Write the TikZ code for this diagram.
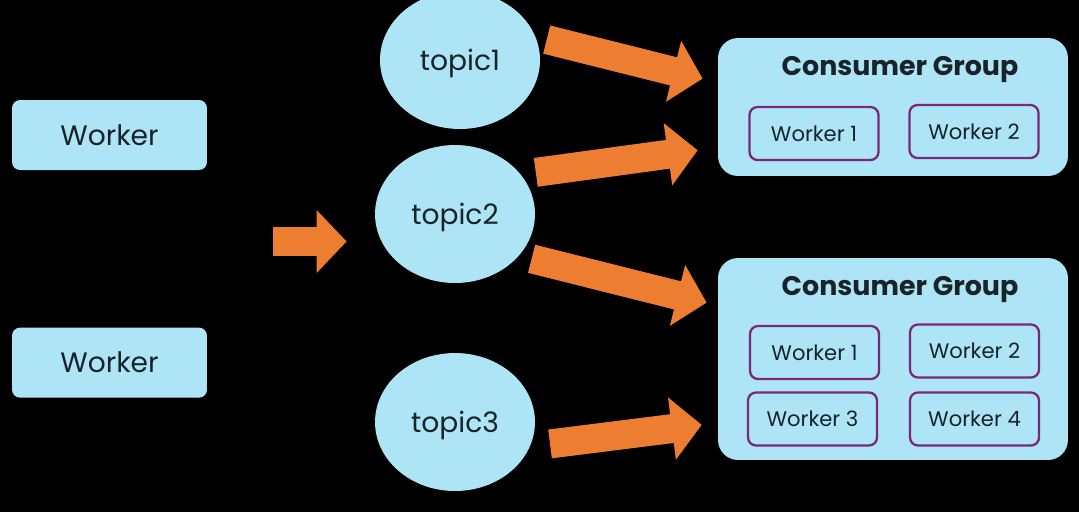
\documentclass[tikz,border=0pt]{standalone}
\usepackage{fontspec}
\setmainfont{Poppins}
\usetikzlibrary{positioning, arrows.meta, shapes.geometric, calc}
\definecolor{sky}{RGB}{173,229,247}
\definecolor{flowc}{RGB}{237,125,49}
\definecolor{plum}{RGB}{122,40,120}
\definecolor{ink}{RGB}{25,35,40}
\tikzset{
every node/.style = {text = ink},
worker/.style = {rectangle, rounded corners = 1.6mm, fill = sky, inner sep = 0pt,
   minimum width = 3.9cm, minimum height = 1.4cm, font = \fontsize{16}{19}\selectfont},
topic/.style = {ellipse, fill = sky, inner sep = 0pt, minimum width = 3.2cm,
   minimum height = 2.76cm, text depth = 0pt, font = \fontsize{16}{19}\selectfont},
group/.style = {rectangle, rounded corners = 4mm, fill = sky, inner sep = 0pt,
   minimum width = 7cm},
grouptitle/.style = {inner sep = 0pt, text depth = 0pt,
   font = \bfseries\fontsize{15.3}{18}\selectfont},
member/.style = {rectangle, rounded corners = 1.6mm, draw = plum, line width = 1.3pt,
   fill = sky, inner sep = 0pt, minimum width = 2.58cm, minimum height = 1.06cm,
   font = \fontsize{12}{14}\selectfont},
flow/.style = {-{Triangle[length = 6mm, width = 12.2mm]}, line width = 5.8mm, draw = flowc}
}
\begin{document}
\begin{tikzpicture}[x = 0.02cm, y = -0.02cm]
\useasboundingbox [fill = black] (0,0) rectangle (1079,512);

%% Workers
\node [worker] (w1) at (109.5,135) {Worker};
\node [worker] (w2) [below = 3.14cm of w1] {Worker};

%% Topics
\node [topic] (t1) at (460,60) {topic1};
\node [topic] (t2) at (455,214) {topic2};
\node [topic] (t3) at (455,422) {topic3};

%% Consumer groups
\node [group, minimum height = 2.76cm] (g1) at (893,107) {};
\node [grouptitle] (g1t) at (900,66) {Consumer Group};
\node [member] (m11) at (814,133.5) {Worker 1};
\node [member] (m12) at (974,131.5) {Worker 2};

\node [group, minimum height = 4.04cm] (g2) at (893,359) {};
\node [grouptitle] (g2t) at (900,286) {Consumer Group};
\node [member] (m21) at (814.5,352.5) {Worker 1};
\node [member] (m22) at (974.5,351) {Worker 2};
\node [member] (m23) at (812.5,419) {Worker 3};
\node [member] (m24) at (974.5,419) {Worker 4};

%% Flows
\coordinate (in) at (273,241.5);
\draw [flow, shorten > = 0.56cm] (in) -- (in -| t2.west);

\draw [flow, shorten < = 0.226cm, shorten > = 0.31cm] (t1.17.6) -- (g1.172.5);
\draw [flow, shorten < = 0.3cm, shorten > = 0.404cm] (t2.31.6) -- (g1.193);
\draw [flow, shorten < = 0.256cm, shorten > = 0.228cm] (t2.327.8) -- (g2.163.75);
\draw [flow, shorten < = 0.4cm, shorten > = 0.322cm] (t3.342.7) -- (g2.200.9);

\end{tikzpicture}
\end{document}
